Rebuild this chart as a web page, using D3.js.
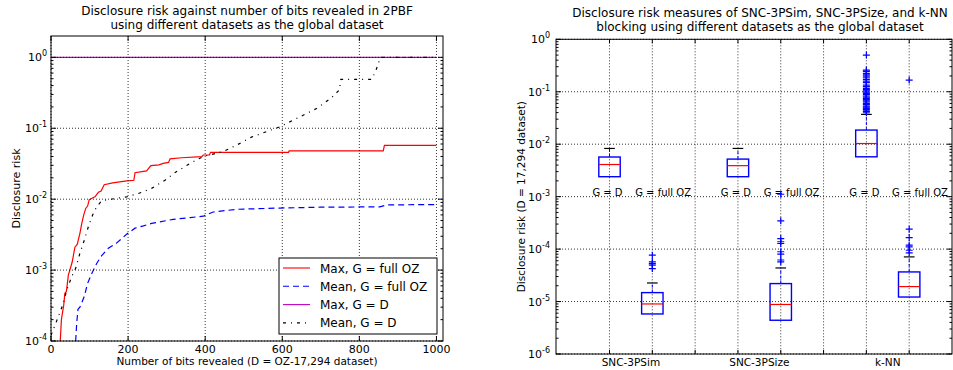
<!DOCTYPE html>
<html>
<head>
<meta charset="utf-8">
<script src="https://cdn.jsdelivr.net/npm/d3@7"></script>
<style>
  body { margin: 0; background: #fff; }
  svg { font-family: "DejaVu Sans", sans-serif; }
</style>
</head>
<body>
<div id="chart-area"></div>
<script>
// ---- left panel data: disclosure risk vs bits revealed ----
var maxFullOZ = [[24,1.0e-4],[27,2.0e-4],[33,3.2e-4],[36,4.7e-4],[40,5.0e-4],[45,8.5e-4],[55,1.3e-3],[62,2.1e-3],[68,2.3e-3],[75,3.3e-3],[80,4.6e-3],[85,6.0e-3],[90,7.4e-3],[95,8.0e-3],[99,9.8e-3],[105,1.02e-2],[114,1.08e-2],[123,1.25e-2],[130,1.3e-2],[138,1.6e-2],[160,1.7e-2],[192,1.8e-2],[215,1.85e-2],[218,2.36e-2],[248,2.5e-2],[259,2.97e-2],[280,3.05e-2],[291,3.2e-2],[305,3.3e-2],[309,3.7e-2],[339,3.84e-2],[391,3.98e-2],[395,4.2e-2],[411,4.2e-2],[414,4.57e-2],[616,4.57e-2],[618,4.8e-2],[862,4.8e-2],[865,5.75e-2],[1000,5.75e-2]];
var meanFullOZ = [[64,1.0e-4],[66.7,1.78e-4],[70,2.8e-4],[75,3.0e-4],[86,4.2e-4],[95,6.5e-4],[105.5,8.9e-4],[118.5,1.24e-3],[131.5,1.6e-3],[148.7,2.03e-3],[170,2.4e-3],[196,3.2e-3],[218,3.9e-3],[240,4.2e-3],[261,4.55e-3],[317,5.2e-3],[361,5.5e-3],[395,5.75e-3],[421,6.6e-3],[482,7.2e-3],[594,7.5e-3],[698,7.7e-3],[853,7.8e-3],[871,8.3e-3],[1000,8.4e-3]];
var maxD = [[0,1.0],[1000,1.0]];
var meanD = [[0,1.2e-4],[19,2.2e-4],[32,3.4e-4],[40.7,5.2e-4],[53.7,8.1e-4],[64,1.06e-3],[75,1.73e-3],[86.5,2.65e-3],[97,4.1e-3],[108,6.0e-3],[118.5,7.8e-3],[131.5,9.5e-3],[166,1.02e-2],[196,1.08e-2],[226.5,1.2e-2],[261,1.42e-2],[296.6,1.86e-2],[320.6,2.35e-2],[361,3.2e-2],[395,4.0e-2],[447,4.7e-2],[482,5.8e-2],[520,7.5e-2],[560,9.0e-2],[594,1.05e-1],[646,1.45e-1],[689,1.9e-1],[726,2.64e-1],[748,3.46e-1],[752,4.9e-1],[832,4.9e-1],[842,6.3e-1],[853,9.4e-1],[857,1.0],[1000,1.0]];
var leftSeries = ["Max, G = full OZ", "Mean, G = full OZ", "Max, G = D", "Mean, G = D"];
var xTicksLeft = [0, 200, 400, 600, 800, 1000];

// ---- right panel data: boxplots ----
var groups = ["SNC-3PSim", "SNC-3PSize", "k-NN"];
var boxLabels = ["G = D", "G = full OZ"];
// pos, whisker low, q1, median, q3, whisker high
var boxes = [
  {pos:1, lo:2.4e-3, q1:2.4e-3, med:4.1e-3, q3:5.7e-3, hi:8.3e-3},
  {pos:2, lo:5.8e-6, q1:5.8e-6, med:9.0e-6, q3:1.48e-5, hi:2.26e-5},
  {pos:4, lo:2.4e-3, q1:2.4e-3, med:3.9e-3, q3:5.2e-3, hi:8.3e-3},
  {pos:5, lo:4.4e-6, q1:4.4e-6, med:8.8e-6, q3:2.2e-5, hi:4.37e-5},
  {pos:7, lo:5.75e-3, q1:5.75e-3, med:1.03e-2, q3:1.86e-2, hi:3.7e-2},
  {pos:8, lo:1.22e-5, q1:1.22e-5, med:1.93e-5, q3:3.67e-5, hi:7.1e-5}
];
var fliers = {
  2: [7.65e-5, 5.7e-5, 5.3e-5, 4.93e-5, 4.26e-5],
  5: [1.11e-3, 3.46e-4, 1.59e-4, 1.38e-4, 1.28e-4, 8.9e-5, 8.0e-5, 6.2e-5, 5.7e-5],
  7: [0.5, 0.259, 0.245, 0.224, 0.21, 0.199, 0.185, 0.172, 0.16, 0.149, 0.134, 0.125, 0.116, 0.11, 0.104, 0.098, 0.093, 0.088, 0.083, 0.079, 0.0748, 0.071, 0.0673, 0.064, 0.06, 0.057, 0.0533, 0.051, 0.0482, 0.046, 0.0434, 0.042, 0.0398],
  8: [0.167, 2.4e-4, 1.66e-4, 1.19e-4, 1.1e-4, 9.5e-5, 8.5e-5]
};

var svg = d3.select('#chart-area')
  .append('svg')
  .attr('width', 953)
  .attr('height', 370);

function supLabel(sel, exp) {
  sel.append("tspan").text("10");
  sel.append("tspan").attr("dy", -5).attr("font-size", "8px").text(exp);
}

function logTicks(g, y, x0, x1, lo, hi) {
  for (var e = lo; e <= hi; e++) {
    var v = Math.pow(10, e);
    g.append("line").attr("x1", x0).attr("x2", x0 + 5).attr("y1", y(v)).attr("y2", y(v)).attr("stroke", "#000");
    g.append("line").attr("x1", x1).attr("x2", x1 - 5).attr("y1", y(v)).attr("y2", y(v)).attr("stroke", "#000");
    if (e < hi) {
      for (var m = 2; m < 10; m++) {
        var mv = m * v;
        g.append("line").attr("x1", x0).attr("x2", x0 + 2.5).attr("y1", y(mv)).attr("y2", y(mv)).attr("stroke", "#000");
        g.append("line").attr("x1", x1).attr("x2", x1 - 2.5).attr("y1", y(mv)).attr("y2", y(mv)).attr("stroke", "#000");
      }
    }
  }
}

// ================= LEFT PANEL =================
var L = {x0: 51, x1: 443, y0: 36, y1: 341};
var xL = d3.scaleLinear().domain([0, 1017]).range([L.x0, L.x1]);
var yL = d3.scaleLog().domain([1e-4, 2]).range([L.y1, L.y0]);

svg.append("clipPath").attr("id", "clipL").append("rect")
  .attr("x", L.x0).attr("y", L.y0).attr("width", L.x1 - L.x0).attr("height", L.y1 - L.y0);

var left = svg.append("g");
var lineL = d3.line().x(d => xL(d[0])).y(d => yL(d[1]));
var styles = [
  {data: maxFullOZ, color: "#ff0000", dash: null},
  {data: meanFullOZ, color: "#0000ff", dash: "6,4"},
  {data: maxD, color: "#bf00bf", dash: null},
  {data: meanD, color: "#000000", dash: "3,5,1,5"}
];
var plotL = left.append("g").attr("clip-path", "url(#clipL)");
styles.forEach(s => {
  plotL.append("path").datum(s.data).attr("d", lineL)
    .attr("fill", "none").attr("stroke", s.color).attr("stroke-width", 1.2)
    .attr("stroke-dasharray", s.dash);
});

// grid
xTicksLeft.forEach(t => {
  left.append("line").attr("x1", xL(t)).attr("x2", xL(t)).attr("y1", L.y0).attr("y2", L.y1)
    .attr("stroke", "#000").attr("stroke-width", 0.8).attr("stroke-dasharray", "1,2");
});
[-4, -3, -2, -1, 0].forEach(e => {
  left.append("line").attr("x1", L.x0).attr("x2", L.x1).attr("y1", yL(Math.pow(10, e))).attr("y2", yL(Math.pow(10, e)))
    .attr("stroke", "#000").attr("stroke-width", 0.8).attr("stroke-dasharray", "1,2");
});

// ticks
logTicks(left, yL, L.x0, L.x1, -4, 0);
xTicksLeft.forEach(t => {
  left.append("line").attr("x1", xL(t)).attr("x2", xL(t)).attr("y1", L.y1).attr("y2", L.y1 - 5).attr("stroke", "#000");
  left.append("line").attr("x1", xL(t)).attr("x2", xL(t)).attr("y1", L.y0).attr("y2", L.y0 + 5).attr("stroke", "#000");
  left.append("text").attr("x", xL(t)).attr("y", L.y1 + 11.5).attr("text-anchor", "middle")
    .attr("font-size", "11px").text(t);
});
[-4, -3, -2, -1, 0].forEach(e => {
  var t = left.append("text").attr("x", L.x0 - 4).attr("y", yL(Math.pow(10, e)) + 4)
    .attr("text-anchor", "end").attr("font-size", "11px");
  supLabel(t, e);
});

left.append("rect").attr("x", L.x0).attr("y", L.y0).attr("width", L.x1 - L.x0).attr("height", L.y1 - L.y0)
  .attr("fill", "none").attr("stroke", "#000");

left.append("text").attr("x", (L.x0 + L.x1) / 2).attr("y", 15).attr("text-anchor", "middle")
  .attr("font-size", "12px").text("Disclosure risk against number of bits revealed in 2PBF");
left.append("text").attr("x", (L.x0 + L.x1) / 2).attr("y", 29).attr("text-anchor", "middle")
  .attr("font-size", "12px").text("using different datasets as the global dataset");
left.append("text").attr("x", (L.x0 + L.x1) / 2).attr("y", 365).attr("text-anchor", "middle")
  .attr("font-size", "10.5px").text("Number of bits revealed (D = OZ-17,294 dataset)");
left.append("text").attr("transform", "translate(20," + (L.y0 + L.y1) / 2 + ") rotate(-90)")
  .attr("text-anchor", "middle").attr("font-size", "11px").text("Disclosure risk");

// legend
var leg = left.append("g").attr("transform", "translate(279,258)");
leg.append("rect").attr("width", 158).attr("height", 76).attr("fill", "#fff").attr("stroke", "#000");
leftSeries.forEach((name, i) => {
  var yy = 10 + i * 18.3;
  leg.append("line").attr("x1", 4).attr("x2", 31).attr("y1", yy).attr("y2", yy)
    .attr("stroke", styles[i].color).attr("stroke-width", 1.1).attr("stroke-dasharray", styles[i].dash);
  leg.append("text").attr("x", 41).attr("y", yy + 4.5).attr("font-size", "12px").text(name);
});

// ================= RIGHT PANEL =================
var R = {x0: 556, x1: 952, y0: 39.3, y1: 354};
var xR = d3.scaleLinear().domain([-0.25, 9]).range([R.x0, R.x1]);
var yR = d3.scaleLog().domain([1e-6, 1]).range([R.y1, R.y0]);
var right = svg.append("g");

// grid
d3.range(1, 9).forEach(p => {
  right.append("line").attr("x1", xR(p)).attr("x2", xR(p)).attr("y1", R.y0).attr("y2", R.y1)
    .attr("stroke", "#000").attr("stroke-width", 0.8).attr("stroke-dasharray", "1,2");
});
d3.range(-6, 1).forEach(e => {
  right.append("line").attr("x1", R.x0).attr("x2", R.x1).attr("y1", yR(Math.pow(10, e))).attr("y2", yR(Math.pow(10, e)))
    .attr("stroke", "#000").attr("stroke-width", 0.8).attr("stroke-dasharray", "1,2");
});

// G = D / G = full OZ labels
[0, 3, 6].forEach(off => {
  right.append("text").attr("x", xR(off + 0.6)).attr("y", yR(1e-3) - 1).attr("font-size", "10px").text(boxLabels[0]);
  right.append("text").attr("x", xR(off + 1.6)).attr("y", yR(1e-3) - 1).attr("font-size", "10px").text(boxLabels[1]);
});

var bw = xR(0.25) - xR(0);
boxes.forEach(b => {
  var cx = xR(b.pos);
  right.append("line").attr("x1", cx).attr("x2", cx).attr("y1", yR(b.q3)).attr("y2", yR(b.hi))
    .attr("stroke", "#0000ff").attr("stroke-dasharray", "3,2");
  right.append("line").attr("x1", cx).attr("x2", cx).attr("y1", yR(b.q1)).attr("y2", yR(b.lo))
    .attr("stroke", "#0000ff").attr("stroke-dasharray", "3,2");
  right.append("line").attr("x1", cx - bw / 2).attr("x2", cx + bw / 2).attr("y1", yR(b.hi)).attr("y2", yR(b.hi))
    .attr("stroke", "#000").attr("stroke-width", 1.2);
  right.append("rect").attr("x", cx - bw).attr("y", yR(b.q3)).attr("width", bw * 2).attr("height", yR(b.q1) - yR(b.q3))
    .attr("fill", "none").attr("stroke", "#0000ff").attr("stroke-width", 1.4);
  right.append("line").attr("x1", cx - bw).attr("x2", cx + bw).attr("y1", yR(b.med)).attr("y2", yR(b.med))
    .attr("stroke", "#ff0000").attr("stroke-width", 1.2);
  (fliers[b.pos] || []).forEach(v => {
    right.append("path").attr("d", "M" + (cx - 3.5) + "," + yR(v) + "h7M" + cx + "," + (yR(v) - 3.5) + "v7")
      .attr("stroke", "#0000ff").attr("stroke-width", 1.2);
  });
});

// ticks
logTicks(right, yR, R.x0, R.x1, -6, 0);
d3.range(1, 9).forEach(p => {
  right.append("line").attr("x1", xR(p)).attr("x2", xR(p)).attr("y1", R.y1).attr("y2", R.y1 - 4).attr("stroke", "#000");
  right.append("line").attr("x1", xR(p)).attr("x2", xR(p)).attr("y1", R.y0).attr("y2", R.y0 + 4).attr("stroke", "#000");
});
d3.range(-6, 1).forEach(e => {
  var t = right.append("text").attr("x", R.x0 - 6).attr("y", yR(Math.pow(10, e)) + 4)
    .attr("text-anchor", "end").attr("font-size", "11px");
  supLabel(t, e);
});
groups.forEach((g, i) => {
  right.append("text").attr("x", xR(1.5 + i * 3)).attr("y", 366).attr("text-anchor", "middle")
    .attr("font-size", "10.5px").text(g);
});

right.append("rect").attr("x", R.x0).attr("y", R.y0).attr("width", R.x1 - R.x0).attr("height", R.y1 - R.y0)
  .attr("fill", "none").attr("stroke", "#000");

right.append("text").attr("x", 760).attr("y", 17).attr("text-anchor", "middle")
  .attr("font-size", "12px").text("Disclosure risk measures of SNC-3PSim, SNC-3PSize, and k-NN");
right.append("text").attr("x", 760).attr("y", 31).attr("text-anchor", "middle")
  .attr("font-size", "12px").text("blocking using different datasets as the global dataset");
right.append("text").attr("transform", "translate(525," + (R.y0 + R.y1) / 2 + ") rotate(-90)")
  .attr("text-anchor", "middle").attr("font-size", "10.5px").text("Disclosure risk (D = 17,294 dataset)");
</script>
</body>
</html>
